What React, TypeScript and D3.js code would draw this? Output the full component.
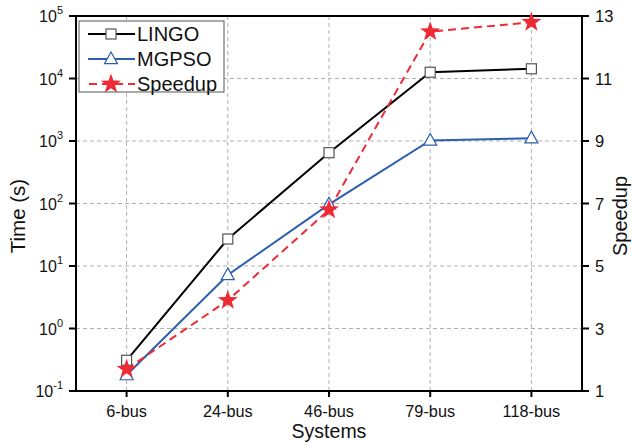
import React from "react";
import * as d3 from "d3";

const categories = ["6-bus", "24-bus", "46-bus", "79-bus", "118-bus"];
const lingo = [0.31, 27, 650, 12600, 14300];
const mgpso = [0.18, 7.2, 97, 1020, 1110];
const speedup = [1.7, 3.9, 6.8, 12.5, 12.8];
const leftTicks = [-1, 0, 1, 2, 3, 4, 5];
const rightTicks = [1, 3, 5, 7, 9, 11, 13];

const W = 632, H = 445;
const M = { left: 76, right: 582, top: 16, bottom: 391 };
const FONT = "Liberation Sans, Arial, sans-serif";

function starPath(cx: number, cy: number, R: number, r: number) {
  const pts: string[] = [];
  for (let i = 0; i < 10; i++) {
    const a = -Math.PI / 2 + (i * Math.PI) / 5;
    const rad = i % 2 === 0 ? R : r;
    pts.push(`${cx + rad * Math.cos(a)},${cy + rad * Math.sin(a)}`);
  }
  return "M" + pts.join("L") + "Z";
}
function triPath(cx: number, cy: number, s: number) {
  const h = s * 0.9;
  return `M${cx},${cy - h * 0.6}L${cx + s / 2},${cy + h * 0.4}L${cx - s / 2},${cy + h * 0.4}Z`;
}

export default function App() {
  const x = d3.scalePoint<string>().domain(categories).range([M.left, M.right]).padding(0.5);
  const yL = d3.scaleLog().domain([0.1, 1e5]).range([M.bottom, M.top]);
  const yR = d3.scaleLinear().domain([1, 13]).range([M.bottom, M.top]);

  const lineL = d3.line<number>().x((_, i) => x(categories[i])!).y((d) => yL(d));
  const lineR = d3.line<number>().x((_, i) => x(categories[i])!).y((d) => yR(d));

  const blue = "#2b5fad";
  const red = "#ee2a35";
  const grid = "#b0b0b0";
  const midY = 216;

  return (
    <svg width={W} height={H} style={{ display: "block", position: "absolute", left: 0, top: 0 }} fontFamily={FONT}>
      <rect width={W} height={H} fill="#fff" />
      {/* grid */}
      {categories.map((c) => (
        <line key={c} x1={x(c)} x2={x(c)} y1={M.top} y2={M.bottom} stroke={grid} strokeWidth={1} strokeDasharray="4,3" />
      ))}
      {leftTicks.slice(1, -1).map((e) => (
        <line key={e} x1={M.left} x2={M.right} y1={yL(Math.pow(10, e))} y2={yL(Math.pow(10, e))} stroke={grid} strokeWidth={1} strokeDasharray="4,3" />
      ))}
      {/* frame */}
      <rect x={M.left} y={M.top} width={M.right - M.left} height={M.bottom - M.top} fill="none" stroke="#000" strokeWidth={2} />
      {/* left ticks */}
      {leftTicks.map((e) => {
        const yy = yL(Math.pow(10, e));
        return (
          <g key={e}>
            <line x1={M.left - 7} x2={M.left} y1={yy} y2={yy} stroke="#000" strokeWidth={2} />
            <text x={M.left - 13} y={yy + 6} textAnchor="end" fontSize={16} fill="#111">
              10
              <tspan dy={-8} fontSize={11}>{e}</tspan>
            </text>
          </g>
        );
      })}
      {/* right ticks */}
      {rightTicks.map((t) => (
        <g key={t}>
          <line x1={M.right} x2={M.right + 7} y1={yR(t)} y2={yR(t)} stroke="#000" strokeWidth={2} />
          <text x={M.right + 13} y={yR(t) + 6} fontSize={16.5} fill="#111">{t}</text>
        </g>
      ))}
      {/* bottom ticks */}
      {categories.map((c) => (
        <g key={c}>
          <line x1={x(c)} x2={x(c)} y1={M.bottom} y2={M.bottom + 6} stroke="#000" strokeWidth={2} />
          <text x={x(c)} y={M.bottom + 26} textAnchor="middle" fontSize={16.3} fill="#111">{c}</text>
        </g>
      ))}
      {/* axis titles */}
      <text x={(M.left + M.right) / 2} y={438} textAnchor="middle" fontSize={19.5} fill="#111">Systems</text>
      <text transform={`translate(25,${midY}) rotate(-90)`} textAnchor="middle" fontSize={20.5} fill="#111">Time (s)</text>
      <text transform={`translate(627,${midY}) rotate(-90)`} textAnchor="middle" fontSize={20} fill="#111">Speedup</text>

      {/* lines */}
      <path d={lineL(lingo)!} fill="none" stroke="#000" strokeWidth={2} />
      <path d={lineL(mgpso)!} fill="none" stroke={blue} strokeWidth={2} />
      <path d={lineR(speedup)!} fill="none" stroke={red} strokeWidth={2} strokeDasharray="8,5" />

      {/* markers */}
      {lingo.map((v, i) => (
        <rect key={i} x={x(categories[i])! - 5} y={yL(v) - 5} width={10} height={10} fill="#fff" stroke="#555" strokeWidth={1.2} />
      ))}
      {mgpso.map((v, i) => (
        <path key={i} d={triPath(x(categories[i])!, yL(v), 13)} fill="#fff" stroke={blue} strokeWidth={1.2} />
      ))}
      {speedup.map((v, i) => (
        <path key={i} d={starPath(x(categories[i])!, yR(v), 10.5, 4.2)} fill={red} stroke="none" />
      ))}

      {/* legend */}
      <g>
        <rect x={79} y={21} width={145} height={71} fill="#fff" stroke="#555" strokeWidth={1} />
        <line x1={88} x2={135} y1={34} y2={34} stroke="#000" strokeWidth={2} />
        <rect x={106} y={29} width={10} height={10} fill="#fff" stroke="#555" strokeWidth={1.2} />
        <text x={137} y={41} fontSize={20} fill="#111">LINGO</text>
        <line x1={88} x2={135} y1={59} y2={59} stroke={blue} strokeWidth={2} />
        <path d={triPath(111, 59, 13)} fill="#fff" stroke={blue} strokeWidth={1.2} />
        <text x={137} y={66} fontSize={20} fill="#111">MGPSO</text>
        <line x1={88} x2={135} y1={84} y2={84} stroke={red} strokeWidth={2} strokeDasharray="8,5" strokeDashoffset={-1} />
        <path d={starPath(111, 84, 10.5, 4.2)} fill={red} />
        <text x={137} y={91} fontSize={20} fill="#111">Speedup</text>
      </g>
    </svg>
  );
}
